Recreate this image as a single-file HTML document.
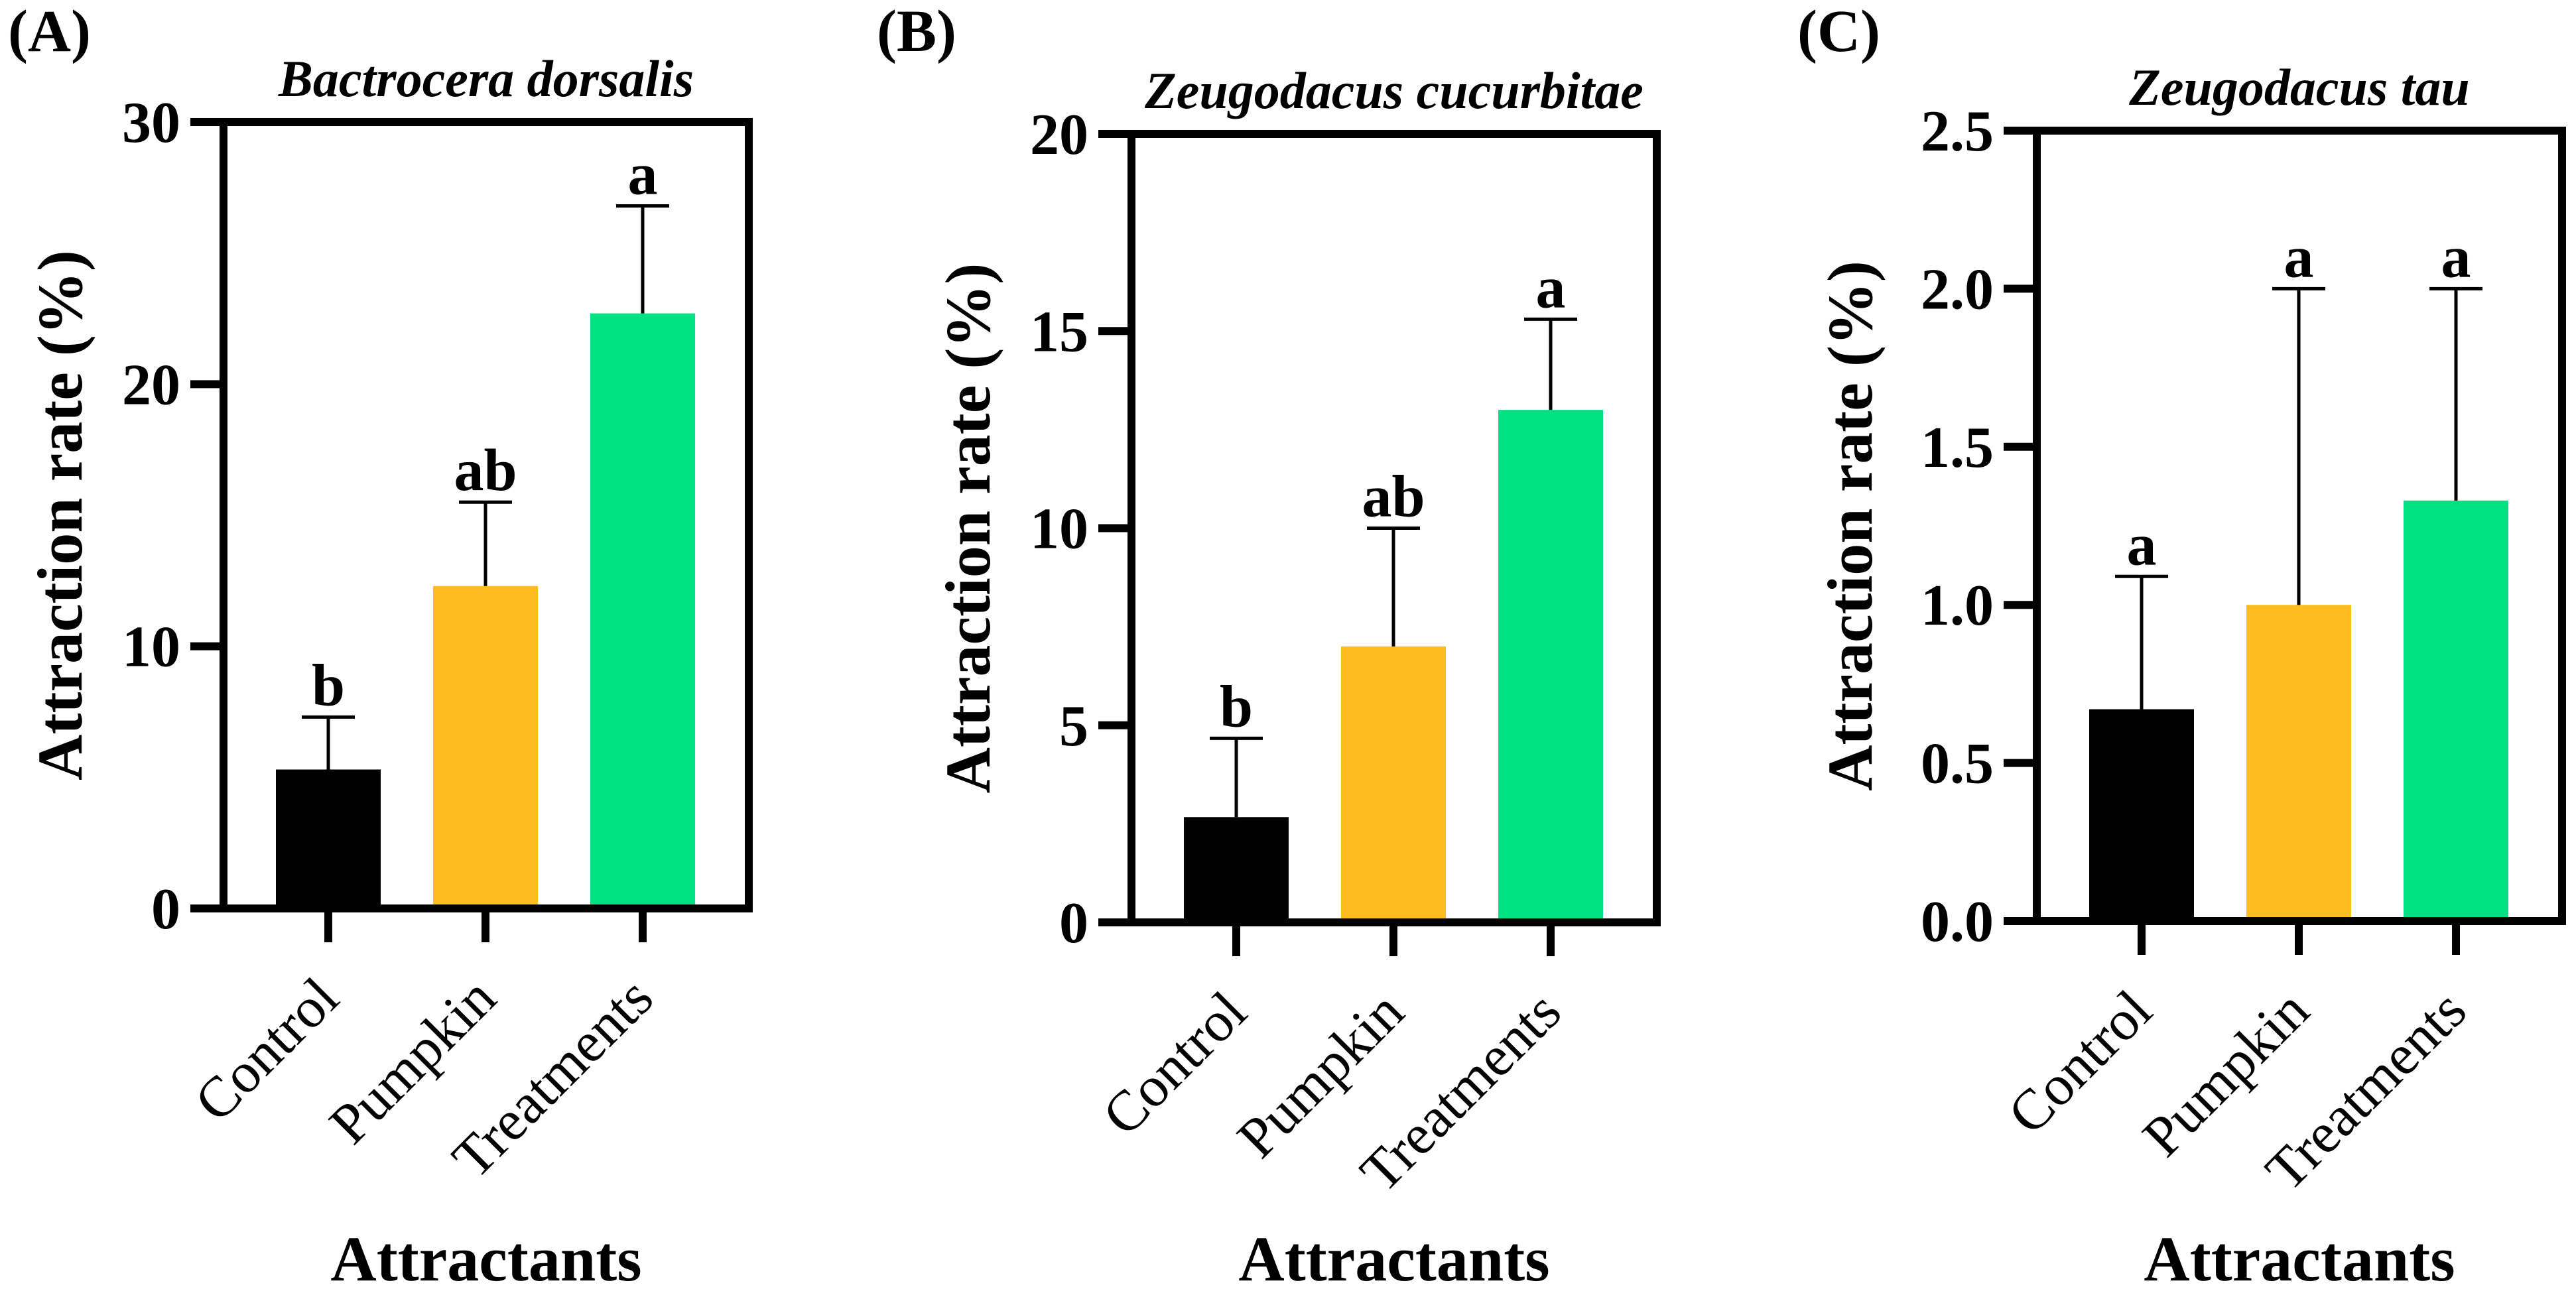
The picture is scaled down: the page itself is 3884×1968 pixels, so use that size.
<!DOCTYPE html>
<html><head><meta charset="utf-8"><style>
html,body{margin:0;padding:0;background:#fff}
svg{display:block}
svg text{font-family:"Liberation Serif","Times New Roman",Times,serif;fill:#000}
</style></head><body>
<svg id="fig" width="3884" height="1968" viewBox="0 0 3884 1968" xmlns="http://www.w3.org/2000/svg" font-family="'Liberation Serif', 'Times New Roman', serif"></svg>
<script>
const categories = ["Control","Pumpkin","Treatments"];
const colors = ["#000000","#FEBD1E","#00E184"];
const meansA = [5.3, 12.3, 22.7];
const upperA = [7.3, 15.5, 26.8];
const lettersA = ["b","ab","a"];
const ticksA = [0,10,20,30];
const tickLabelsA = ["0","10","20","30"];
const meansB = [2.67, 7.0, 13.0];
const upperB = [4.67, 10.0, 15.3];
const lettersB = ["b","ab","a"];
const ticksB = [0,5,10,15,20];
const tickLabelsB = ["0","5","10","15","20"];
const meansC = [0.67, 1.0, 1.33];
const upperC = [1.09, 2.0, 2.0];
const lettersC = ["a","a","a"];
const ticksC = [0,0.5,1.0,1.5,2.0,2.5];
const tickLabelsC = ["0.0","0.5","1.0","1.5","2.0","2.5"];

const NS="http://www.w3.org/2000/svg";
const svg=document.getElementById('fig');
function mk(tag,attrs,parent){const e=document.createElementNS(NS,tag);for(const k in attrs)e.setAttribute(k,attrs[k]);(parent||svg).appendChild(e);return e;}

const panels=[
 {id:"a",tag:"(A)",tagX:12,title:"Bactrocera dorsalis",titleY:145,left:337,top:184,bottom:1370,max:30,means:meansA,upper:upperA,letters:lettersA,ticks:ticksA,labels:tickLabelsA,ylabX:123},
 {id:"b",tag:"(B)",tagX:1322,title:"Zeugodacus cucurbitae",titleY:163,left:1706,top:202,bottom:1391,max:20,means:meansB,upper:upperB,letters:lettersB,ticks:ticksB,labels:tickLabelsB,ylabX:1492},
 {id:"c",tag:"(C)",tagX:2710,title:"Zeugodacus tau",titleY:158,left:3071,top:197,bottom:1389,max:2.5,means:meansC,upper:upperC,letters:lettersC,ticks:ticksC,labels:tickLabelsC,ylabX:2822}
];
const W=792, LW=12;
panels.forEach(p=>{
  const g=mk('g',{});
  
  
  const right=p.left+W;
  const y=v=>p.bottom-(v/p.max)*(p.bottom-p.top);
  const xc=i=>p.left+158+i*237;
  const cx=(p.left+right)/2;
  let t=mk('text',{x:p.tagX,y:77,'font-size':90,'font-weight':'bold'},g);t.textContent=p.tag;
  
  t=mk('text',{x:cx,y:p.titleY,'font-size':78,'font-weight':'bold','font-style':'italic','text-anchor':'middle'},g);t.textContent=p.title;
  
  p.means.forEach((m,i)=>{
    const r=mk('rect',{x:xc(i)-79,y:y(m),width:158,height:p.bottom-y(m),fill:colors[i]},g);
    
    
    const e=mk('path',{d:`M${xc(i)} ${y(m)} V${y(p.upper[i])} M${xc(i)-40} ${y(p.upper[i])} H${xc(i)+40}`,stroke:'#000','stroke-width':5,fill:'none'},g);
    
    
    const l=mk('text',{x:xc(i),y:y(p.upper[i])-18,'font-size':90,'font-weight':'bold','text-anchor':'middle'},g);l.textContent=p.letters[i];
    
    
    const ct=mk('line',{x1:xc(i),x2:xc(i),y1:p.bottom,y2:p.bottom+51,stroke:'#000','stroke-width':LW},g);
    
    
    const cl=mk('text',{x:0,y:0,'font-size':86,'text-anchor':'end',transform:`translate(${xc(i)+20},${p.bottom+140}) rotate(-45)`},g);cl.textContent=categories[i];
    
    
  });
  const f=mk('rect',{x:p.left,y:p.top,width:W,height:p.bottom-p.top,fill:'none',stroke:'#000','stroke-width':LW},g);
  
  p.ticks.forEach((v,i)=>{
    const tl=mk('line',{x1:p.left-50,x2:p.left,y1:y(v),y2:y(v),stroke:'#000','stroke-width':LW},g);
    
    
    const tx=mk('text',{x:p.left-65,y:y(v)+30,'font-size':88,'font-weight':'bold','text-anchor':'end'},g);tx.textContent=p.labels[i];
    
    
  });
  t=mk('text',{x:0,y:0,'font-size':96,'font-weight':'bold','text-anchor':'middle',transform:`translate(${p.ylabX},${(p.top+p.bottom)/2}) rotate(-90)`},g);t.textContent="Attraction rate (%)";
  
  t=mk('text',{x:cx,y:1931,'font-size':96,'font-weight':'bold','text-anchor':'middle'},g);t.textContent="Attractants";
  
});
</script>
</body></html>
